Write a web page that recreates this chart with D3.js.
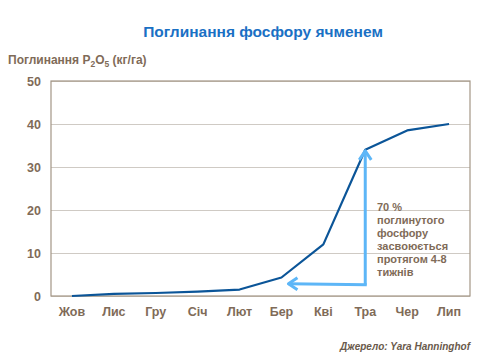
<!DOCTYPE html>
<html><head><meta charset="utf-8">
<script src="https://cdn.jsdelivr.net/npm/d3@7"></script>
<style>
body{margin:0;background:#fff;}
svg{display:block;font-family:Arial,"Liberation Sans",sans-serif;}
</style></head>
<body><svg id="c" width="480" height="360"></svg>
<script>
const months = ["Жов","Лис","Гру","Січ","Лют","Бер","Кві","Тра","Чер","Лип"];
const uptake = [0, 0.5, 0.7, 1.0, 1.5, 4.3, 12, 34, 38.5, 40];
const yTicks = [0, 10, 20, 30, 40, 50];
const noteLines = ["70 %", "поглинутого", "фосфору", "засвоюється", "протягом 4-8", "тижнів"];
// arrow: from Тра baseline level up to Тра value, and left to Бер
const arrowLevel = 2.6;

const svg = d3.select("#c");
const L = 51, R = 470, T = 81, B = 296;
const x = d3.scaleBand().domain(months).range([L, R]);
const y = d3.scaleLinear().domain([0, 50]).range([B, T]);
const cx = d => x(d) + x.bandwidth() / 2;
const txt = "#7f6b58";

// title
svg.append("text").attr("x", 263).attr("y", 37).attr("text-anchor", "middle")
  .attr("font-size", 15.5).attr("font-weight", "bold").attr("fill", "#1a70c4")
  .text("Поглинання фосфору ячменем");

// y axis title
const yt = svg.append("text").attr("x", 8).attr("y", 64).attr("font-size", 12)
  .attr("font-weight", "bold").attr("fill", txt);
yt.append("tspan").text("Поглинання P");
yt.append("tspan").attr("font-size", 8.5).attr("dy", 3).text("2");
yt.append("tspan").attr("dy", -3).text("O");
yt.append("tspan").attr("font-size", 8.5).attr("dy", 3).text("5");
yt.append("tspan").attr("dy", -3).text("  (кг/га)");

// gridlines
const yAxis = d3.axisLeft(y).tickValues(yTicks).tickSize(-(R - L)).tickPadding(10);
const gy = svg.append("g").attr("transform", `translate(${L},0)`).call(yAxis);
gy.select(".domain").remove();
gy.selectAll(".tick line").attr("stroke", "#cfcac4").attr("stroke-width", 1);
gy.selectAll(".tick text").attr("font-size", 12.5).attr("font-weight", "bold")
  .attr("fill", txt).attr("font-family", "Arial,'Liberation Sans',sans-serif");

// frame
svg.append("rect").attr("x", L).attr("y", T).attr("width", R - L).attr("height", B - T)
  .attr("fill", "none").attr("stroke", "#a39686").attr("stroke-width", 1.2);

// x axis
const gx = svg.append("g").attr("transform", `translate(0,${B})`)
  .call(d3.axisBottom(x).tickSize(0).tickPadding(11));
gx.select(".domain").remove();
gx.selectAll(".tick text").attr("font-size", 12.5).attr("font-weight", "bold")
  .attr("fill", txt).attr("font-family", "Arial,'Liberation Sans',sans-serif");

// line
const line = d3.line().x((d, i) => cx(months[i])).y(d => y(d));
svg.append("path").datum(uptake).attr("d", line).attr("fill", "none")
  .attr("stroke", "#0b5598").attr("stroke-width", 2.2).attr("stroke-linejoin", "round");

// arrows
const ac = "#5db6f7";
const ax = cx("Тра"), ay = y(arrowLevel);
const topY = y(uptake[7]), leftX = cx("Бер") + 7;
svg.append("path").attr("d", `M${ax},${ay} L${ax},${topY + 1}`)
  .attr("stroke", ac).attr("stroke-width", 3).attr("fill", "none");
svg.append("path").attr("d", `M${ax - 6},${topY + 10} L${ax},${topY + 1} L${ax + 6},${topY + 10}`)
  .attr("stroke", ac).attr("stroke-width", 3).attr("fill", "none").attr("stroke-linejoin", "round");
svg.append("path").attr("d", `M${ax + 1.5},${ay} L${leftX},${ay - 1}`)
  .attr("stroke", ac).attr("stroke-width", 3).attr("fill", "none");
svg.append("path").attr("d", `M${leftX + 9},${ay - 7} L${leftX},${ay - 1} L${leftX + 9},${ay + 5}`)
  .attr("stroke", ac).attr("stroke-width", 3).attr("fill", "none").attr("stroke-linejoin", "round");

// note
svg.append("g").selectAll("text").data(noteLines).join("text")
  .attr("x", 377).attr("y", (d, i) => 211 + i * 13)
  .attr("font-size", 11).attr("font-weight", "bold").attr("fill", txt).text(d => d);

// source
svg.append("text").attr("x", 470).attr("y", 350).attr("text-anchor", "end")
  .attr("font-size", 10).attr("font-weight", "bold").attr("font-style", "italic")
  .attr("fill", "#6a5a4c").text("Джерело: Yara Hanninghof");
</script></body></html>
